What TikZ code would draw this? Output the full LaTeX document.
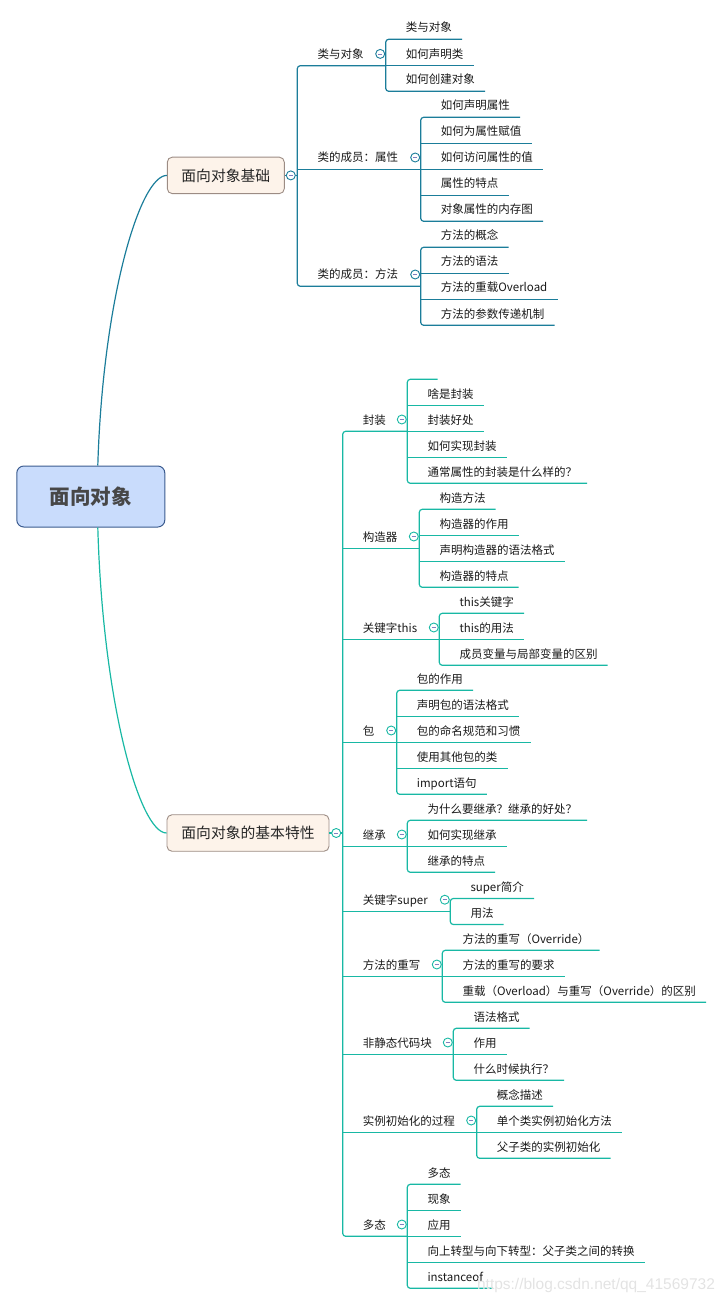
\documentclass[tikz,border=0pt]{standalone}
\usepackage{fontspec}
\setmainfont{Noto Sans CJK SC}
\newfontfamily\wmfont{Liberation Sans}
\definecolor{topln}{RGB}{27,125,154}
\definecolor{botln}{RGB}{24,184,164}
\definecolor{rootfill}{RGB}{201,220,252}
\definecolor{rootdraw}{RGB}{59,91,143}
\definecolor{boxfill}{RGB}{253,243,234}
\definecolor{boxdraw}{RGB}{156,140,132}
\definecolor{minuscol}{RGB}{128,128,192}
\tikzset{
  topic/.style={anchor=south west, inner xsep=10pt, inner ysep=4.6pt, text height=8.5pt, text depth=2.5pt,
    font=\fontsize{11.5}{13}\selectfont, text=black!90, execute at begin node=\hspace*{10pt}},
  fold/.style={circle, draw=#1, fill=white, minimum size=9pt, inner sep=0pt, line width=0.9pt, xshift=-5.5pt,
    path picture={\draw[minuscol, line width=0.7pt] ([xshift=-2.2pt]path picture bounding box.center) -- ([xshift=2.2pt]path picture bounding box.center);}},
  mainbox/.style={draw=boxdraw, fill=boxfill, rounded corners=5pt, line width=0.9pt, minimum width=117pt,
    minimum height=36.5pt, inner sep=0pt, font=\fontsize{14.8}{16}\selectfont, text=black!85},
  tb/.style={topln, line width=1.2pt},
  bb/.style={botln, line width=1.2pt}
}
\begin{document}
\begin{tikzpicture}[x=1pt,y=-1pt]
\useasboundingbox (0,0) rectangle (727,1305);
\node[draw=rootdraw, fill=rootfill, rounded corners=7pt, line width=1pt, minimum width=148pt, minimum height=61pt,
  font=\fontsize{20.5}{22}\selectfont\bfseries, text=black!72] (rt) at (90.8,496.5) {面向对象};
\node[mainbox] (jc) at (225.8,175.4) {面向对象基础};
\node[mainbox, minimum width=162pt] (tx) at (248,833) {面向对象的基本特性};

\node[topic] (lei) at (297.3,65.7) {类与对象};
\node[topic] (sx) at (297.3,169.3) {类的成员：属性};
\node[topic] (ff) at (297.3,286.3) {类的成员：方法};
\node[topic] (lei1) at (385.7,39.3) {类与对象};
\node[topic] (lei2) at (385.7,65.7) {如何声明类};
\node[topic] (lei3) at (385.7,91.3) {如何创建对象};
\node[topic] (sx1) at (420.7,117.3) {如何声明属性};
\node[topic] (sx2) at (420.7,143.3) {如何为属性赋值};
\node[topic] (sx3) at (420.7,169.3) {如何访问属性的值};
\node[topic] (sx4) at (420.7,195.3) {属性的特点};
\node[topic] (sx5) at (420.7,221.3) {对象属性的内存图};
\node[topic] (ff1) at (420.7,247.3) {方法的概念};
\node[topic] (ff2) at (420.7,273.3) {方法的语法};
\node[topic] (ff3) at (420.7,299.3) {方法的重载Overload};
\node[topic] (ff4) at (420.7,325.3) {方法的参数传递机制};

\node[topic] (fz) at (342.7,431.3) {封装};
\node[topic] (gz) at (342.7,548.3) {构造器};
\node[topic] (th) at (342.7,639.3) {关键字this};
\node[topic] (bao) at (342.7,742.3) {包};
\node[topic] (jch) at (342.7,846.3) {继承};
\node[topic] (sp) at (342.7,911.5) {关键字super};
\node[topic] (cx) at (342.7,976.3) {方法的重写};
\node[topic] (fj) at (342.7,1054.3) {非静态代码块};
\node[topic] (sl) at (342.7,1132.3) {实例初始化的过程};
\node[topic] (dt) at (342.7,1236.3) {多态};

\node[topic] (fz0) at (407.3,379.3) {};
\node[topic] (fz1) at (407.3,405.3) {啥是封装};
\node[topic] (fz2) at (407.3,431.3) {封装好处};
\node[topic] (fz3) at (407.3,457.3) {如何实现封装};
\node[topic] (fz4) at (407.3,483.3) {通常属性的封装是什么样的？};
\node[topic] (gz1) at (419.3,509.3) {构造方法};
\node[topic] (gz2) at (419.3,535.3) {构造器的作用};
\node[topic] (gz3) at (419.3,561.3) {声明构造器的语法格式};
\node[topic] (gz4) at (419.3,587.3) {构造器的特点};
\node[topic] (th1) at (439.3,613.3) {this关键字};
\node[topic] (th2) at (439.3,639.3) {this的用法};
\node[topic] (th3) at (439.3,665.3) {成员变量与局部变量的区别};
\node[topic] (bao1) at (396.7,690.3) {包的作用};
\node[topic] (bao2) at (396.7,716.3) {声明包的语法格式};
\node[topic] (bao3) at (396.7,742.3) {包的命名规范和习惯};
\node[topic] (bao4) at (396.7,768.3) {使用其他包的类};
\node[topic] (bao5) at (396.7,794.3) {import语句};
\node[topic] (jch1) at (407.3,820.3) {为什么要继承？继承的好处？};
\node[topic] (jch2) at (407.3,846.3) {如何实现继承};
\node[topic] (jch3) at (407.3,872.3) {继承的特点};
\node[topic] (sp1) at (450.3,898.5) {super简介};
\node[topic] (sp2) at (450.3,924.5) {用法};
\node[topic] (cx1) at (442.3,950.3) {方法的重写（Override）};
\node[topic] (cx2) at (442.3,976.3) {方法的重写的要求};
\node[topic] (cx3) at (442.3,1002.3) {重载（Overload）与重写（Override）的区别};
\node[topic] (fj1) at (453.3,1028.3) {语法格式};
\node[topic] (fj2) at (453.3,1054.3) {作用};
\node[topic] (fj3) at (453.3,1080.3) {什么时候执行？};
\node[topic] (sl1) at (476.7,1106.3) {概念描述};
\node[topic] (sl2) at (476.7,1132.3) {单个类实例初始化方法};
\node[topic] (sl3) at (476.7,1158.3) {父子类的实例初始化};
\node[topic] (dt1) at (407.3,1184.3) {多态};
\node[topic] (dt2) at (407.3,1210.3) {现象};
\node[topic] (dt3) at (407.3,1236.3) {应用};
\node[topic] (dt4) at (407.3,1262.3) {向上转型与向下转型：父子类之间的转换};
\node[topic] (dt5) at (407.3,1288.3) {instanceof};

\draw[tb] ([xshift=7pt]rt.north) .. controls +(5,-166) and +(-27,0) .. (jc.west);
\draw[bb] ([xshift=7pt]rt.south) .. controls +(5,175) and +(-27,0) .. (tx.west);

\draw[tb] (jc.east) -- (jc.east -| lei.south west);
\draw[tb, rounded corners=3pt] (lei.south -| lei1.south west) -- (lei.south west) -- (ff.south west) -- (ff.south -| ff1.south west);
\draw[tb] (sx.south west) -- (sx.south -| sx1.south west);
\draw[tb, rounded corners=3pt] (lei1.south east) -- (lei1.south west) -- (lei3.south west) -- (lei3.south east);
\draw[tb] (lei2.south west) -- (lei2.south east);
\draw[tb, rounded corners=3pt] (sx1.south east) -- (sx1.south west) -- (sx5.south west) -- (sx5.south east);
\draw[tb] (sx2.south west) -- (sx2.south east);
\draw[tb] (sx3.south west) -- (sx3.south east);
\draw[tb] (sx4.south west) -- (sx4.south east);
\draw[tb, rounded corners=3pt] (ff1.south east) -- (ff1.south west) -- (ff4.south west) -- (ff4.south east);
\draw[tb] (ff2.south west) -- (ff2.south east);
\draw[tb] (ff3.south west) -- (ff3.south east);

\draw[bb] (tx.east) -- (tx.east -| fz.south west);
\draw[bb, rounded corners=3pt] (fz.south -| fz0.south west) -- (fz.south west) -- (dt.south west) -- (dt.south -| dt1.south west);
\draw[bb] (gz.south west) -- (gz.south -| gz1.south west);
\draw[bb] (th.south west) -- (th.south -| th1.south west);
\draw[bb] (bao.south west) -- (bao.south -| bao1.south west);
\draw[bb] (jch.south west) -- (jch.south -| jch1.south west);
\draw[bb] (sp.south west) -- (sp.south -| sp1.south west);
\draw[bb] (cx.south west) -- (cx.south -| cx1.south west);
\draw[bb] (fj.south west) -- (fj.south -| fj1.south west);
\draw[bb] (sl.south west) -- (sl.south -| sl1.south west);

\draw[bb, rounded corners=3pt] (fz0.south east) -- (fz0.south west) -- (fz4.south west) -- (fz4.south east);
\draw[bb] (fz1.south west) -- (fz1.south east);
\draw[bb] (fz2.south west) -- (fz2.south east);
\draw[bb] (fz3.south west) -- (fz3.south east);
\draw[bb, rounded corners=3pt] (gz1.south east) -- (gz1.south west) -- (gz4.south west) -- (gz4.south east);
\draw[bb] (gz2.south west) -- (gz2.south east);
\draw[bb] (gz3.south west) -- (gz3.south east);
\draw[bb, rounded corners=3pt] (th1.south east) -- (th1.south west) -- (th3.south west) -- (th3.south east);
\draw[bb] (th2.south west) -- (th2.south east);
\draw[bb, rounded corners=3pt] (bao1.south east) -- (bao1.south west) -- (bao5.south west) -- (bao5.south east);
\draw[bb] (bao2.south west) -- (bao2.south east);
\draw[bb] (bao3.south west) -- (bao3.south east);
\draw[bb] (bao4.south west) -- (bao4.south east);
\draw[bb, rounded corners=3pt] (jch1.south east) -- (jch1.south west) -- (jch3.south west) -- (jch3.south east);
\draw[bb] (jch2.south west) -- (jch2.south east);
\draw[bb, rounded corners=3pt] (sp1.south east) -- (sp1.south west) -- (sp2.south west) -- (sp2.south east);
\draw[bb, rounded corners=3pt] (cx1.south east) -- (cx1.south west) -- (cx3.south west) -- (cx3.south east);
\draw[bb] (cx2.south west) -- (cx2.south east);
\draw[bb, rounded corners=3pt] (fj1.south east) -- (fj1.south west) -- (fj3.south west) -- (fj3.south east);
\draw[bb] (fj2.south west) -- (fj2.south east);
\draw[bb, rounded corners=3pt] (sl1.south east) -- (sl1.south west) -- (sl3.south west) -- (sl3.south east);
\draw[bb] (sl2.south west) -- (sl2.south east);
\draw[bb, rounded corners=3pt] (dt1.south east) -- (dt1.south west) -- (dt5.south west) -- (dt5.south east);
\draw[bb] (dt2.south west) -- (dt2.south east);
\draw[bb] (dt3.south west) -- (dt3.south east);
\draw[bb] (dt4.south west) -- (dt4.south east);

\node[fold=topln, xshift=-1pt] (jc-f) at (jc.east -| lei.south west) {};
\node[fold=topln, yshift=1.5pt] (lei-f) at (lei.center -| lei1.south west) {};
\node[fold=topln, yshift=1.5pt] (sx-f) at (sx.center -| sx1.south west) {};
\node[fold=topln, yshift=1.5pt] (ff-f) at (ff.center -| ff1.south west) {};
\node[fold=botln, xshift=-1pt] (tx-f) at (tx.east -| fz.south west) {};
\node[fold=botln, yshift=1.5pt] (fz-f) at (fz.center -| fz0.south west) {};
\node[fold=botln, yshift=1.5pt] (gz-f) at (gz.center -| gz1.south west) {};
\node[fold=botln, yshift=1.5pt] (th-f) at (th.center -| th1.south west) {};
\node[fold=botln, yshift=1.5pt] (bao-f) at (bao.center -| bao1.south west) {};
\node[fold=botln, yshift=1.5pt] (jch-f) at (jch.center -| jch1.south west) {};
\node[fold=botln, yshift=1.5pt] (sp-f) at (sp.center -| sp1.south west) {};
\node[fold=botln, yshift=1.5pt] (cx-f) at (cx.center -| cx1.south west) {};
\node[fold=botln, yshift=1.5pt] (fj-f) at (fj.center -| fj1.south west) {};
\node[fold=botln, yshift=1.5pt] (sl-f) at (sl.center -| sl1.south west) {};
\node[fold=botln, yshift=1.5pt] (dt-f) at (dt.center -| dt1.south west) {};

\node[font=\wmfont\fontsize{15.5}{16}\selectfont, text=gray!22] (wm) at (596,1285) {https://blog.csdn.net/qq\_41569732};
\end{tikzpicture}
\end{document}
